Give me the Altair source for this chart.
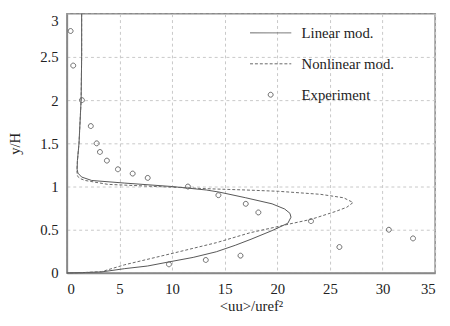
import altair as alt
import pandas as pd

# Linear model (solid) profile, ordered along the curve
lin_x = [1.4, 1.4, 1.35, 1.15, 1.0, 0.97, 1.05, 1.4, 2.36, 5.5, 10.0, 13.25, 14.5, 17.0, 19.5,
         20.7, 21.2, 21.3, 21.0, 19.5, 17.5, 16.0, 14.2, 12.0, 9.8, 7.65, 5.5, 3.3, 1.5, 0.0]
lin_y = [3.0, 2.5, 2.0, 1.5, 1.3, 1.2, 1.155, 1.11, 1.07, 1.04, 1.0, 0.96, 0.935, 0.87, 0.80,
         0.74, 0.69, 0.645, 0.575, 0.49, 0.39, 0.32, 0.245, 0.18, 0.13, 0.08, 0.05, 0.012, 0.004, 0.0]

# Nonlinear model (dashed) profile
nl_x = [1.4, 1.4, 1.35, 1.15, 1.0, 0.95, 1.0, 1.3, 1.74, 3.9, 8.6, 13.25, 17.0, 20.1, 24.1,
        26.3, 27.2, 26.6, 25.5, 23.2, 21.1, 17.4, 14.2, 9.8, 5.5, 3.3, 1.5, 0.0]
nl_y = [3.0, 2.5, 2.0, 1.5, 1.3, 1.18, 1.12, 1.09, 1.07, 1.025, 1.0, 0.975, 0.96, 0.945, 0.91,
        0.87, 0.815, 0.76, 0.71, 0.62, 0.565, 0.465, 0.35, 0.22, 0.095, 0.015, 0.004, 0.0]

# Experiment
exp_x = [0.35, 0.6, 1.43, 2.27, 2.83, 3.14, 3.8, 4.85, 6.25, 7.68, 11.5, 14.4, 17.0, 18.2,
         23.2, 25.9, 30.6, 32.9, 16.5, 13.2, 9.7]
exp_y = [2.8, 2.4, 2.0, 1.7, 1.5, 1.4, 1.3, 1.2, 1.15, 1.1, 1.0, 0.9, 0.8, 0.7,
         0.6, 0.3, 0.5, 0.4, 0.2, 0.15, 0.1]

series_names = ["Linear mod.", "Nonlinear mod.", "Experiment"]
x_ticks = [0, 5, 10, 15, 20, 25, 30, 35]
y_ticks = [0, 0.5, 1, 1.5, 2, 2.5, 3]

lin_df = pd.DataFrame({"x": lin_x, "y": lin_y, "i": range(len(lin_x))})
nl_df = pd.DataFrame({"x": nl_x, "y": nl_y, "i": range(len(nl_x))})
exp_df = pd.DataFrame({"x": exp_x, "y": exp_y, "series": "Experiment"})

FONT = "Liberation Serif"

xscale = alt.Scale(domain=[0, 35], nice=False, zero=False)
yscale = alt.Scale(domain=[0, 3], nice=False, zero=False)

axis_common = dict(labelFont=FONT, labelFontSize=15, labelColor="#222",
                   titleFont=FONT, titleFontSize=15, titleColor="#222", titleFontWeight="normal",
                   grid=True, gridColor="#c8c8c8", gridDash=[3, 3], gridWidth=1,
                   ticks=False, tickSize=0, labelPadding=9,
                   domainColor="#888", domainWidth=1.5, format="~g")

xenc = alt.X("x:Q", scale=xscale, axis=alt.Axis(
    values=x_ticks, title="<uu>/uref\u00b2",
    titleX=187.5, titleY=33, titleAlign="center", titleBaseline="middle", **axis_common))
yenc = alt.Y("y:Q", scale=yscale, axis=alt.Axis(
    values=y_ticks, title="y/H",
    labelBaseline=alt.expr("datum.value == 3 ? 'top' : 'middle'"),
    titleX=-53, titleY=132, titleAngle=270, titleAlign="center", titleBaseline="middle",
    **axis_common))

lin = alt.Chart(lin_df).mark_line(color="#555", strokeWidth=1).encode(
    x=xenc, y=yenc, order="i:Q")
nl = alt.Chart(nl_df).mark_line(color="#666", strokeWidth=1, strokeDash=[3, 2]).encode(
    x="x:Q", y="y:Q", order="i:Q")

r = 0.167
circle_path = f"M-{r},0A{r},{r} 0 1,1 {r},0A{r},{r} 0 1,1 -{r},0Z"
line_path = "M-1.4,0L1.4,0"

legend_opts = dict(title=None, orient="none", legendX=192, legendY=4,
                   labelFont=FONT, labelFontSize=15, labelColor="#222",
                   labelOffset=16, symbolSize=900, rowPadding=7.5,
                   symbolStrokeColor="#666", symbolStrokeWidth=1, padding=0)

pts = alt.Chart(exp_df).mark_point(filled=False, color="#666", strokeWidth=1, size=900, opacity=1).encode(
    x="x:Q", y="y:Q",
    shape=alt.Shape("series:N", scale=alt.Scale(domain=series_names,
                                                range=[line_path, line_path, circle_path]),
                    legend=alt.Legend(**legend_opts)),
    strokeDash=alt.StrokeDash("series:N", scale=alt.Scale(domain=series_names,
                                                          range=[[1, 0], [3, 2], [1, 0]]),
                              legend=alt.Legend(**legend_opts)),
)

chart = alt.layer(lin, nl, pts).properties(
    width=375, height=264,
    background="white",
    autosize=alt.AutoSizeParams(type="none"),
    padding={"left": 60, "top": 3, "right": 7, "bottom": 40},
).configure_view(stroke="#888", strokeWidth=1.5)

chart.save("out.html", embed_options={"renderer": "svg", "actions": False})
